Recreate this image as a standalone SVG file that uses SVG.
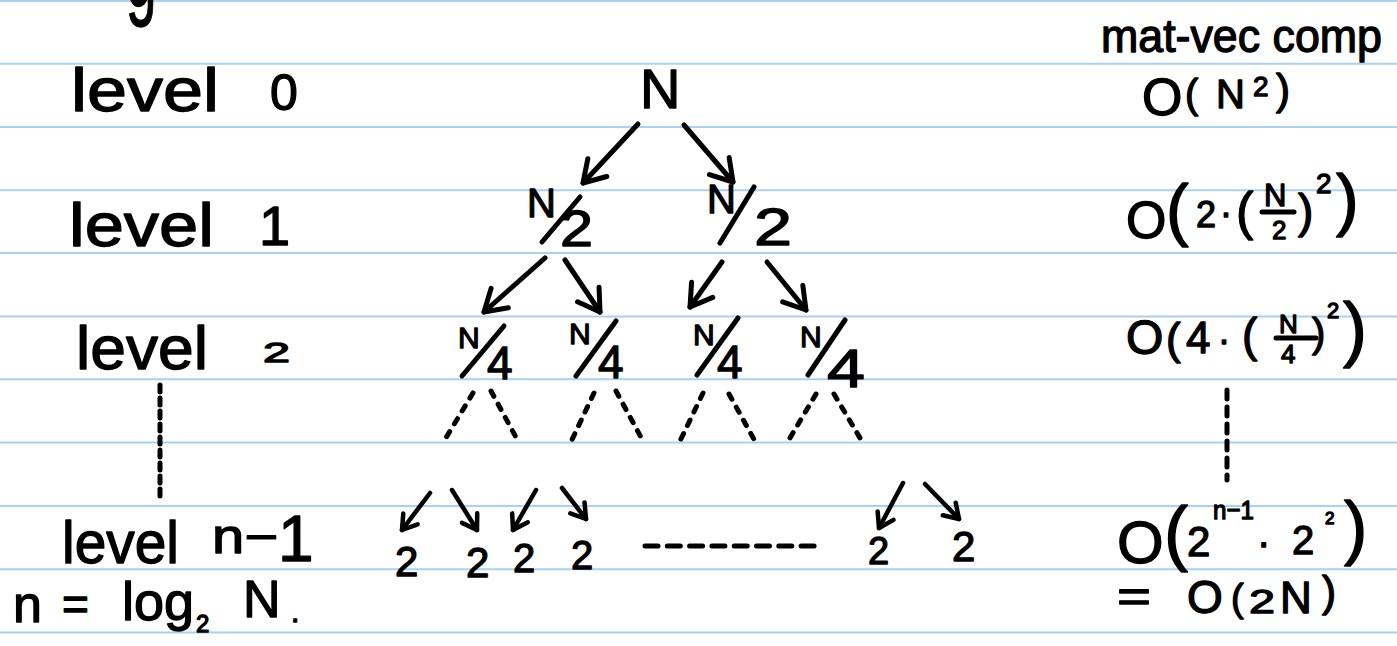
<svg xmlns="http://www.w3.org/2000/svg" width="1397" height="646" viewBox="0 0 1397 646">
<style>
.rule{stroke:#a9d0f5;stroke-width:2}
.h{font-family:"Liberation Sans",Arial,sans-serif;fill:#000;stroke:#000;stroke-width:1.3;stroke-linejoin:round}
.ink{stroke:#000;stroke-width:5;stroke-linecap:round;fill:none}
.arr{stroke:#000;stroke-width:5;stroke-linecap:round;fill:none;marker-end:url(#ah)}
.sarr{stroke:#000;stroke-width:4.5;stroke-linecap:round;fill:none;marker-end:url(#sah)}
.dot{stroke:#000;stroke-width:5;stroke-linecap:round;fill:none;stroke-dasharray:6 9}
</style>
<defs>
<marker id="ah" markerUnits="userSpaceOnUse" viewBox="-25 -16 30 32" markerWidth="30" markerHeight="32" refX="0" refY="0" orient="auto" overflow="visible">
<path d="M-21,-13 L0,0 L-21,13" fill="none" stroke="#000" stroke-width="5" stroke-linecap="round" stroke-linejoin="round"/>
</marker>
<marker id="sah" markerUnits="userSpaceOnUse" viewBox="-18 -12 22 24" markerWidth="22" markerHeight="24" refX="0" refY="0" orient="auto" overflow="visible">
<path d="M-14,-9 L0,0 L-14,9" fill="none" stroke="#000" stroke-width="4.5" stroke-linecap="round" stroke-linejoin="round"/>
</marker>
</defs>
<rect width="1397" height="646" fill="#fff"/>
<g id="ruling">
<line class="rule" x1="0" y1="1" x2="1397" y2="1"/>
<line class="rule" x1="0" y1="63.8" x2="1397" y2="63.8"/>
<line class="rule" x1="0" y1="127" x2="1397" y2="127"/>
<line class="rule" x1="0" y1="190.3" x2="1397" y2="190.3"/>
<line class="rule" x1="0" y1="253" x2="1397" y2="253"/>
<line class="rule" x1="0" y1="316.5" x2="1397" y2="316.5"/>
<line class="rule" x1="0" y1="379.3" x2="1397" y2="379.3"/>
<line class="rule" x1="0" y1="442.6" x2="1397" y2="442.6"/>
<line class="rule" x1="0" y1="506" x2="1397" y2="506"/>
<line class="rule" x1="0" y1="569.3" x2="1397" y2="569.3"/>
<line class="rule" x1="0" y1="632.6" x2="1397" y2="632.6"/>
</g>
<g id="cutoff">
<text class="h" transform="translate(126,6) scale(0.55,1)" font-size="100">g</text>
</g>
<g id="levels">
<text class="h" x="71" y="111" font-size="62" textLength="148" lengthAdjust="spacingAndGlyphs">level</text>
<text class="h" x="270" y="110" font-size="50">0</text>
<text class="h" x="69" y="246" font-size="62" textLength="145" lengthAdjust="spacingAndGlyphs">level</text>
<text class="h" x="259" y="245" font-size="56">1</text>
<text class="h" x="76" y="369" font-size="62" textLength="132" lengthAdjust="spacingAndGlyphs">level</text>
<text class="h" x="263" y="362" font-size="28" textLength="27" lengthAdjust="spacingAndGlyphs">2</text>
<line class="ink" x1="160" y1="385" x2="160" y2="498" stroke-dasharray="7 6" stroke-linecap="butt"/>
<text class="h" x="62" y="563" font-size="60" textLength="117" lengthAdjust="spacingAndGlyphs">level</text>
<text class="h" font-size="48"><tspan x="212" y="553" textLength="66" lengthAdjust="spacingAndGlyphs">n−</tspan><tspan x="278" y="561" font-size="64">1</tspan></text>
<text class="h" font-size="52"><tspan x="13" y="622">n</tspan><tspan x="62" y="620" font-size="46">=</tspan><tspan x="122" y="620" font-size="54">log</tspan><tspan x="196" y="632" font-size="24">2</tspan><tspan x="243" y="617">N</tspan><tspan x="291" y="622" font-size="30">.</tspan></text>
</g>
<g id="connectors">
<line class="arr" x1="638" y1="124" x2="583" y2="183"/>
<line class="arr" x1="684" y1="125" x2="733" y2="182"/>
<line class="arr" x1="545" y1="258" x2="484" y2="312"/>
<line class="arr" x1="565" y1="260" x2="600" y2="312"/>
<line class="arr" x1="722" y1="262" x2="690" y2="307"/>
<line class="arr" x1="767" y1="262" x2="806" y2="310"/>
<line class="dot" x1="473" y1="393" x2="444" y2="441"/>
<line class="dot" x1="491" y1="391" x2="518" y2="441"/>
<line class="dot" x1="594" y1="393" x2="569" y2="446"/>
<line class="dot" x1="616" y1="391" x2="643" y2="441"/>
<line class="dot" x1="703" y1="393" x2="680" y2="441"/>
<line class="dot" x1="729" y1="394" x2="756" y2="443"/>
<line class="dot" x1="816" y1="394" x2="787" y2="443"/>
<line class="dot" x1="834" y1="394" x2="863" y2="443"/>
<line class="sarr" x1="430" y1="493" x2="402" y2="530"/>
<line class="sarr" x1="452" y1="490" x2="477" y2="530"/>
<line class="sarr" x1="536" y1="490" x2="513" y2="530"/>
<line class="sarr" x1="562" y1="488" x2="586" y2="519"/>
<line class="sarr" x1="903" y1="483" x2="879" y2="528"/>
<line class="sarr" x1="925" y1="484" x2="959" y2="519"/>
<line class="ink" x1="645" y1="546" x2="815" y2="546" stroke-dasharray="13 9.3" stroke-linecap="butt"/>
</g>
<g id="node-root">
<text class="h" x="640" y="108" font-size="56">N</text>
</g>
<g id="node-half-left">
<text class="h" x="527" y="217" font-size="40">N</text>
<line class="ink" x1="542" y1="242" x2="580" y2="197"/>
<text class="h" x="560" y="246" font-size="50" textLength="33" lengthAdjust="spacingAndGlyphs">2</text>
</g>
<g id="node-half-right">
<text class="h" x="707" y="213" font-size="40">N</text>
<line class="ink" x1="720" y1="243" x2="754" y2="187"/>
<text class="h" x="754" y="245" font-size="52" textLength="38" lengthAdjust="spacingAndGlyphs">2</text>
</g>
<g id="node-q1">
<text class="h" x="458" y="348" font-size="30">N</text>
<line class="ink" x1="462" y1="376" x2="504" y2="326"/>
<text class="h" x="487" y="379" font-size="46">4</text>
</g>
<g id="node-q2">
<text class="h" x="569" y="344" font-size="30">N</text>
<line class="ink" x1="576" y1="376" x2="616" y2="321"/>
<text class="h" x="598" y="378" font-size="46">4</text>
</g>
<g id="node-q3">
<text class="h" x="693" y="345" font-size="30">N</text>
<line class="ink" x1="697" y1="375" x2="738" y2="318"/>
<text class="h" x="717" y="378" font-size="46">4</text>
</g>
<g id="node-q4">
<text class="h" x="800" y="347" font-size="30">N</text>
<line class="ink" x1="808" y1="375" x2="845" y2="320"/>
<text class="h" x="827" y="387" font-size="54" textLength="38" lengthAdjust="spacingAndGlyphs">4</text>
</g>
<g id="leaves">
<text class="h" x="395" y="576" font-size="42">2</text>
<text class="h" x="466" y="577" font-size="42">2</text>
<text class="h" x="513" y="572" font-size="40">2</text>
<text class="h" x="571" y="569" font-size="40">2</text>
<text class="h" x="868" y="564" font-size="38">2</text>
<text class="h" x="952" y="561" font-size="42">2</text>
</g>
<g id="complexity">
<text class="h" x="1101" y="52" font-size="46" textLength="281" lengthAdjust="spacingAndGlyphs">mat-vec comp</text>
<text class="h"><tspan x="1142" y="115" font-size="52">O</tspan><tspan x="1185" y="108" font-size="40">(</tspan><tspan x="1216" y="108" font-size="40">N</tspan><tspan x="1253" y="96" font-size="28">2</tspan><tspan x="1276" y="104" font-size="42">)</tspan></text>
<text class="h"><tspan x="1126" y="238" font-size="52">O</tspan><tspan x="1166" y="233" font-size="68">(</tspan><tspan x="1196" y="227" font-size="36">2</tspan><tspan x="1220" y="225" font-size="36">·</tspan><tspan x="1236" y="229" font-size="52">(</tspan><tspan x="1264" y="206" font-size="31">N</tspan><tspan x="1272" y="239" font-size="26">2</tspan><tspan x="1298" y="227" font-size="46">)</tspan><tspan x="1316" y="193" font-size="28">2</tspan><tspan x="1336" y="223" font-size="68">)</tspan></text>
<line class="ink" x1="1262" y1="212" x2="1294" y2="212" stroke-width="4"/>
<text class="h"><tspan x="1126" y="354" font-size="48">O</tspan><tspan x="1166" y="354" font-size="44">(</tspan><tspan x="1186" y="353" font-size="44">4</tspan><tspan x="1218" y="352" font-size="36">·</tspan><tspan x="1242" y="351" font-size="46">(</tspan><tspan x="1279" y="333" font-size="26">N</tspan><tspan x="1281" y="363" font-size="26">4</tspan><tspan x="1312" y="347" font-size="40">)</tspan><tspan x="1327" y="318" font-size="22">2</tspan><tspan x="1343" y="353" font-size="72">)</tspan></text>
<line class="ink" x1="1276" y1="338" x2="1316" y2="338" stroke-width="4"/>
<line class="ink" x1="1227" y1="390" x2="1227" y2="480" stroke-dasharray="9 8" stroke-linecap="butt"/>
<text class="h"><tspan x="1117" y="563" font-size="60">O</tspan><tspan x="1164" y="557" font-size="72">(</tspan><tspan x="1187" y="556" font-size="42">2</tspan><tspan x="1213" y="519" font-size="26" textLength="41" lengthAdjust="spacingAndGlyphs">n−1</tspan><tspan x="1257" y="556" font-size="40">·</tspan><tspan x="1292" y="554" font-size="40">2</tspan><tspan x="1325" y="524" font-size="17">2</tspan><tspan x="1344" y="551" font-size="70">)</tspan></text>
<text class="h"><tspan x="1117" y="612" font-size="44" textLength="34" lengthAdjust="spacingAndGlyphs">=</tspan><tspan x="1187" y="613" font-size="46">O</tspan><tspan x="1231" y="611" font-size="38">(</tspan><tspan x="1249" y="613" font-size="34" textLength="26" lengthAdjust="spacingAndGlyphs">2</tspan><tspan x="1280" y="613" font-size="44">N</tspan><tspan x="1322" y="606" font-size="42">)</tspan></text>
</g>
</svg>
